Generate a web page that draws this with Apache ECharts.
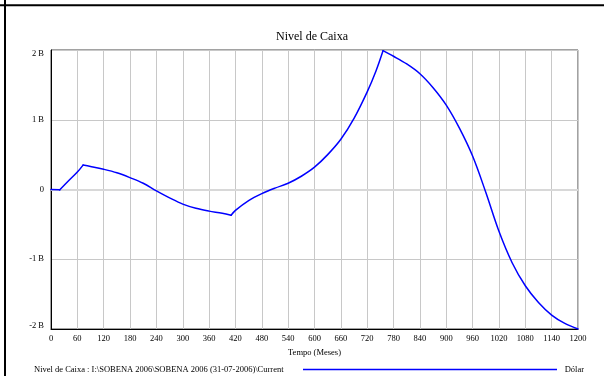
<!DOCTYPE html>
<html>
<head>
<meta charset="utf-8">
<script src="https://cdn.jsdelivr.net/npm/echarts@6/dist/echarts.min.js"></script>
<style>
  html, body { margin: 0; padding: 0; background: #ffffff; }
  #chart { width: 604px; height: 376px; }
</style>
</head>
<body>
<div id="chart"></div>
<script>
// Cash level over time (months), in billions of dollars
const months = [0, 20, 40, 60, 73, 90, 120, 150, 180, 210, 240, 270, 300, 330, 360, 390, 410,
  420, 450, 480, 510, 540, 570, 600, 630, 660, 690, 720, 740, 756,
  780, 810, 840, 870, 900, 930, 960, 990, 1020, 1050, 1080, 1110, 1140, 1170, 1200];
const cashLevel = [0, -0.005, 0.125, 0.25, 0.35, 0.33, 0.29, 0.24, 0.17, 0.09, -0.02, -0.12, -0.21, -0.27, -0.31, -0.34, -0.37,
  -0.30, -0.16, -0.06, 0.02, 0.09, 0.19, 0.32, 0.50, 0.72, 1.02, 1.40, 1.70, 1.99,
  1.91, 1.80, 1.66, 1.46, 1.21, 0.88, 0.48, -0.04, -0.60, -1.05, -1.38, -1.62, -1.80, -1.92, -2.0];
// months where the policy switches and the curve turns sharply
const breakMonths = [20, 73, 410, 756];
const xTicks = [0, 60, 120, 180, 240, 300, 360, 420, 480, 540, 600, 660, 720, 780, 840, 900, 960, 1020, 1080, 1140, 1200];
const yTicks = [-2, -1, 0, 1, 2];

const chartTitle = 'Nivel de Caixa';
const xAxisTitle = 'Tempo (Meses)';
const seriesName = 'Nivel de Caixa : I:\\SOBENA 2006\\SOBENA 2006 (31-07-2006)\\Current';
const unitName = 'Dólar';

const FONT = "'Liberation Serif', 'Times New Roman', serif";
const BLUE = '#0000ff';

const points = months.map((m, i) => [m, cashLevel[i]]);

// split the run into pieces at the break months so each piece is smoothed on its own
const pieces = [];
let start = 0;
breakMonths.concat([months[months.length - 1]]).forEach(bm => {
  const end = months.indexOf(bm);
  pieces.push(points.slice(start, end + 1));
  start = end;
});

function yLabel(v) {
  const txt = v === 0 ? '0' : v + ' B';
  if (v === yTicks[yTicks.length - 1]) return '{top|' + txt + '}';
  if (v === yTicks[0]) return '{bot|' + txt + '}';
  return txt;
}

const lineSeries = pieces.map((piece, k) => {
  const s = {
    name: seriesName,
    type: 'line',
    data: piece,
    showSymbol: false,
    smooth: 0.35,
    lineStyle: { color: BLUE, width: 1.5, cap: 'round', join: 'round' },
    z: 3
  };
  if (k === 0) {
    s.markLine = {
      silent: true,
      symbol: 'none',
      label: { show: false },
      lineStyle: { color: '#d8d8d8', width: 2, type: 'solid' },
      data: [{ yAxis: 0 }],
      z: 1
    };
  }
  return s;
});

const chart = echarts.init(document.getElementById('chart'), null, { renderer: 'canvas' });
chart.setOption({
  backgroundColor: '#ffffff',
  animation: false,
  grid: {
    left: 51, right: 26, top: 50, bottom: 47,
    show: true, borderColor: '#444444', borderWidth: 1, backgroundColor: 'transparent'
  },
  xAxis: {
    type: 'value',
    min: xTicks[0], max: xTicks[xTicks.length - 1], interval: 60,
    name: xAxisTitle,
    nameLocation: 'middle',
    nameGap: 16,
    nameTextStyle: { fontFamily: FONT, fontSize: 8.5, color: '#000' },
    axisLine: { show: true, onZero: false, lineStyle: { color: '#000', width: 1 } },
    axisTick: { show: false },
    axisLabel: { margin: 5, fontFamily: FONT, fontSize: 8.5, color: '#000', formatter: v => String(v) },
    splitLine: { show: true, lineStyle: { color: '#c8c8c8', width: 1 } }
  },
  yAxis: {
    type: 'value',
    min: yTicks[0], max: yTicks[yTicks.length - 1], interval: 1,
    axisLine: { show: true, onZero: false, lineStyle: { color: '#000', width: 1 } },
    axisTick: { show: false },
    axisLabel: {
      margin: 7, fontFamily: FONT, fontSize: 8.5, color: '#000',
      formatter: yLabel,
      rich: {
        top: { fontFamily: FONT, fontSize: 8.5, color: '#000', padding: [7, 0, 0, 0] },
        bot: { fontFamily: FONT, fontSize: 8.5, color: '#000', padding: [0, 0, 7, 0] }
      }
    },
    splitLine: { show: true, lineStyle: { color: '#c8c8c8', width: 1 } }
  },
  series: lineSeries,
  graphic: [
    // outer frame strokes
    { type: 'line', shape: { x1: 0, y1: 5.3, x2: 604, y2: 5.3 }, style: { stroke: '#000', lineWidth: 2 } },
    { type: 'line', shape: { x1: 5, y1: 0, x2: 5, y2: 376 }, style: { stroke: '#000', lineWidth: 2 } },
    // title
    { type: 'text', x: 312, y: 37, style: { text: chartTitle, fontFamily: FONT, fontSize: 12, fill: '#000', align: 'center', verticalAlign: 'middle' } },
    // legend row
    { type: 'text', x: 34, y: 370, style: { text: seriesName, fontFamily: FONT, fontSize: 8.5, fill: '#000', align: 'left', verticalAlign: 'middle' } },
    { type: 'line', shape: { x1: 303, y1: 369.5, x2: 557, y2: 369.5 }, style: { stroke: BLUE, lineWidth: 1.5 } },
    { type: 'text', x: 584, y: 370, style: { text: unitName, fontFamily: FONT, fontSize: 8.5, fill: '#000', align: 'right', verticalAlign: 'middle' } }
  ]
});
</script>
</body>
</html>
